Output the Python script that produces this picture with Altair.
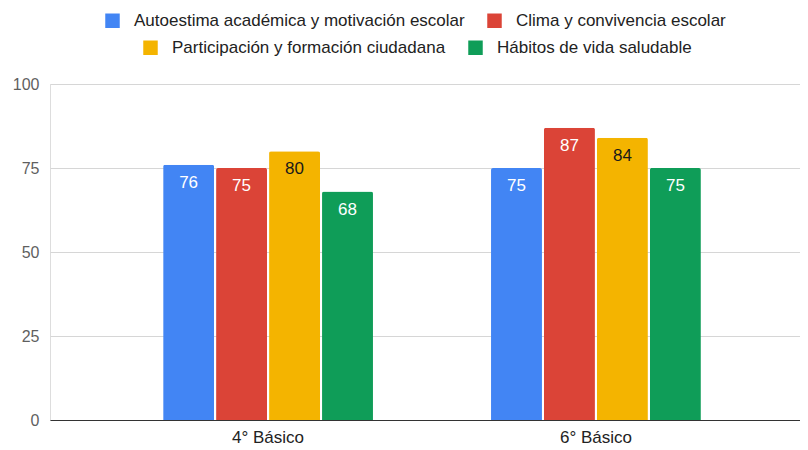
import altair as alt
import pandas as pd

grados = ["4° Básico", "6° Básico"]
series = [
    "Autoestima académica y motivación escolar",
    "Clima y convivencia escolar",
    "Participación y formación ciudadana",
    "Hábitos de vida saludable",
]
autoestima = [76, 75]
clima = [75, 87]
participacion = [80, 84]
habitos = [68, 75]
colores = ["#4285F4", "#DB4437", "#F4B400", "#0F9D58"]
y_ticks = [0, 25, 50, 75, 100]

rows = []
for s, vals in zip(series, [autoestima, clima, participacion, habitos]):
    for g, v in zip(grados, vals):
        rows.append({"grado": g, "serie": s, "serie2": s, "valor": v})
df = pd.DataFrame(rows)

FONT = "Liberation Sans"

x_enc = alt.X(
    "grado:N",
    sort=grados,
    scale=alt.Scale(paddingInner=0.36, paddingOuter=0.345, range=[0, 764]),
    axis=alt.Axis(
        title=None,
        labelAngle=0,
        labelFont=FONT,
        labelFontSize=17,
        labelColor="#222222",
        labelPadding=9,
        ticks=False,
        domainColor="#333333",
        domainWidth=1.2,
        grid=False,
    ),
)
xoff_enc = alt.XOffset(
    "serie:N", sort=series, scale=alt.Scale(paddingInner=0.038)
)
y_enc = alt.Y(
    "valor:Q",
    scale=alt.Scale(domain=[0, 100], nice=False),
    axis=alt.Axis(
        title=None,
        values=y_ticks,
        labelFont=FONT,
        labelFontSize=16,
        labelColor="#5f5f5f",
        labelPadding=11,
        ticks=False,
        domain=False,
        gridColor="#d6d6d6",
        gridWidth=1,
    ),
)

legend_common = dict(
    title=None,
    orient="none",
    direction="horizontal",
    symbolType="square",
    symbolSize=210,
    symbolStrokeWidth=0,
    symbolOpacity=1,
    labelFont=FONT,
    labelFontSize=17,
    labelColor="#222222",
    labelOffset=13,
    columnPadding=21,
    labelLimit=500,
)

bars = alt.Chart(df).mark_bar(
    cornerRadiusTopLeft=2, cornerRadiusTopRight=2
).encode(
    x=x_enc,
    xOffset=xoff_enc,
    y=y_enc,
    color=alt.Color(
        "serie:N",
        sort=series,
        scale=alt.Scale(range=colores),
        legend=alt.Legend(
            values=series[:2], legendX=54, legendY=-72, **legend_common
        ),
    ),
)

# invisible duplicate layer that only carries the second legend row
bars_legend2 = alt.Chart(df).mark_bar(opacity=0).encode(
    x=alt.X("grado:N", sort=grados),
    xOffset=alt.XOffset("serie:N", sort=series),
    y=alt.Y("valor:Q"),
    fill=alt.Fill(
        "serie2:N",
        sort=series,
        scale=alt.Scale(range=colores),
        legend=alt.Legend(
            values=series[2:], legendX=92, legendY=-45, **legend_common
        ),
    ),
)

labels = alt.Chart(df).mark_text(
    baseline="middle", dy=18, font=FONT, fontSize=17
).encode(
    x=alt.X("grado:N", sort=grados),
    xOffset=alt.XOffset("serie:N", sort=series),
    y=alt.Y("valor:Q"),
    text=alt.Text("valor:Q"),
    color=alt.condition(
        alt.datum.serie == series[2], alt.value("#1a1a1a"), alt.value("#ffffff")
    ),
)

chart = (
    alt.layer(bars, bars_legend2, labels)
    .properties(
        width=750,
        height=336,
        autosize=alt.AutoSizeParams(type="none"),
        padding={"left": 42, "top": 76, "right": 0, "bottom": 28},
    )
    .configure_view(stroke=None)
    .configure(background="white")
)

chart.save("out.html", embed_options={"renderer": "svg", "actions": False})
